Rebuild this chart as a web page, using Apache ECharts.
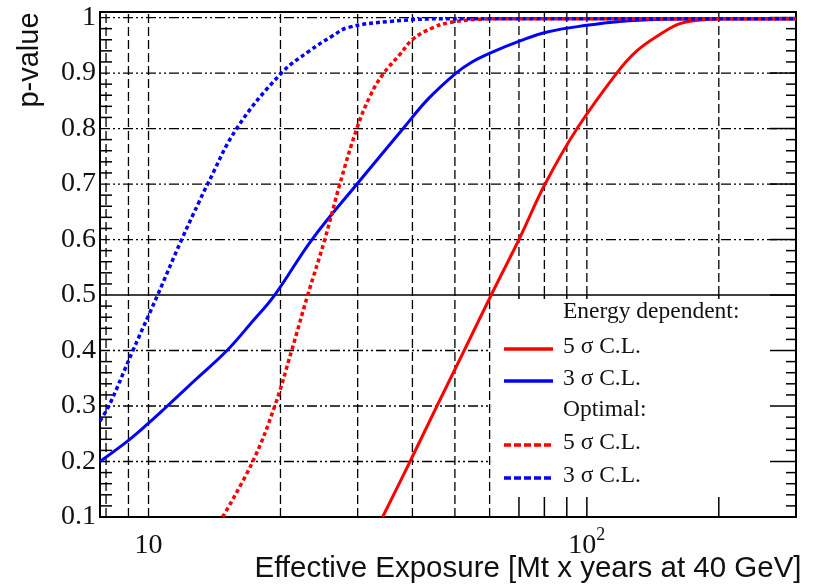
<!DOCTYPE html>
<html><head><meta charset="utf-8">
<script src="https://cdn.jsdelivr.net/npm/echarts@6/dist/echarts.min.js"></script>
<style>html,body{margin:0;padding:0;background:#fff}#c{width:817px;height:584px}</style>
</head><body><div id="c"></div>
<script>
// ---- data ----
const red5Energy = [[34.2,0.1],[39.5,0.2],[45.5,0.3],[52.5,0.4],[60.5,0.5],[70.0,0.6],[80.3,0.7],[95.0,0.8],[117,0.9],[130,0.94],[147,0.97],[163,0.989],[179,0.995],[202,0.998],[300,0.998]];
const blue3Energy = [[7.75,0.2],[9.0,0.238],[10,0.269],[10.9,0.296],[12.74,0.346],[15.1,0.4],[17.2,0.451],[19.4,0.5],[23.6,0.6],[29.9,0.7],[38.1,0.8],[43.4,0.853],[50.3,0.9],[54.7,0.92],[60.1,0.936],[70.4,0.958],[81.2,0.974],[100,0.986],[119,0.993],[147,0.997],[181,0.998],[300,0.998]];
const red5Optimal = [[14.76,0.1],[17.29,0.2],[19.41,0.3],[21.21,0.4],[23.08,0.5],[25.24,0.6],[27.32,0.7],[29.87,0.8],[32.0,0.858],[34.2,0.897],[37.5,0.934],[40.1,0.961],[44.6,0.982],[48.7,0.991],[57.0,0.997],[66,0.998],[300,0.998]];
const blue3Optimal = [[7.75,0.273],[8.14,0.302],[9.19,0.398],[10.05,0.467],[10.49,0.5],[11.9,0.6],[13.08,0.67],[13.64,0.7],[15.89,0.8],[20.1,0.9],[23.3,0.94],[26.3,0.967],[28.5,0.982],[35.5,0.993],[48.7,0.998],[300,0.998]];

// ---- axes / ticks ----
const xMin = 7.75, xMax = 300;
const yMin = 0.1, yMax = 1.01;
const xTickLabels = {10: '{n|10}', 100: '{n|10}{s|2}'};
const yTickLabels = ['0.1','0.2','0.3','0.4','0.5','0.6','0.7','0.8','0.9','1'];
const xGridFull = [8, 9, 10, 20, 30, 40, 50, 60];
const xGridUpper = [70, 80, 90, 100, 200];
const yGridFull = [0.6, 0.7, 0.8, 0.9, 1.0];
const yGridLeft = [0.2, 0.3, 0.4];
const ySolid = 0.5;
const boxLeftX = 60.5;
const yMinor = [];
for (let i = 0; i <= 45; i++) { const v = +(0.1 + i * 0.02).toFixed(2); if (Math.round(v * 100) % 10 !== 0) yMinor.push(v); }
const yMajor = [0.1,0.2,0.3,0.4,0.5,0.6,0.7,0.8,0.9,1.0];

const serif = '"Liberation Serif", "DejaVu Serif", serif';
const sans = '"Liberation Sans", Arial, sans-serif';

function lineRender(style) {
  return function (params, api) {
    const a = api.coord([api.value(0), api.value(1)]);
    const b = api.coord([api.value(2), api.value(3)]);
    return {type: 'line', shape: {x1: a[0], y1: a[1], x2: b[0], y2: b[1]}, style: style};
  };
}
function tickRender(dx, dy, style) {
  return function (params, api) {
    const a = api.coord([api.value(0), api.value(1)]);
    return {type: 'line', shape: {x1: a[0], y1: a[1], x2: a[0] + dx, y2: a[1] + dy}, style: style};
  };
}
const gridV = {stroke: '#000', lineWidth: 1.3, lineDash: [9, 4]};
const gridH = {stroke: '#000', lineWidth: 1.3, lineDash: [10, 3, 2, 3, 2, 3]};
const tickStyle = {stroke: '#000', lineWidth: 1.5};

function customLines(data, style) {
  return {type: 'custom', silent: true, z: 1, renderItem: lineRender(style),
    encode: {x: [0, 2], y: [1, 3]}, data: data};
}
function customTicks(data, dx, dy) {
  return {type: 'custom', silent: true, z: 1, renderItem: tickRender(dx, dy, tickStyle),
    encode: {x: 0, y: 1}, data: data};
}
function curve(name, data, color, dashed) {
  return {name: name, type: 'line', data: data, showSymbol: false, smooth: 0.4, z: 3,
    lineStyle: dashed ? {color: color, width: 3.5, type: [4, 3]} : {color: color, width: 3}};
}

const series = [
  customLines(xGridFull.map(x => [x, yMin, x, yMax]), gridV),
  customLines(xGridUpper.map(x => [x, ySolid, x, yMax]), gridV),
  customLines(yGridFull.map(y => [xMin, y, xMax, y]), gridH),
  customLines(yGridLeft.map(y => [xMin, y, boxLeftX, y]), gridH),
  customLines([[xMin, ySolid, xMax, ySolid]], {stroke: '#000', lineWidth: 1.6}),
  customTicks(xGridUpper.map(x => [x, yMin]), 0, -20),
  customTicks(xGridUpper.map(x => [x, ySolid]), 0, 4),
  customTicks(yMinor.map(y => [xMin, y]), 12, 0),
  customTicks(yMinor.map(y => [xMax, y]), -10, 0),
  customTicks(yMajor.map(y => [xMax, y]), -26, 0),
  curve('5σ energy', red5Energy, '#ff0000', false),
  curve('3σ energy', blue3Energy, '#0000ff', false),
  curve('5σ optimal', red5Optimal, '#ff0000', true),
  curve('3σ optimal', blue3Optimal, '#0000ff', true)
];

// legend
const legendRows = [
  {text: 'Energy dependent:'},
  {text: '5 σ C.L.', color: '#ff0000', dash: false},
  {text: '3 σ C.L.', color: '#0000ff', dash: false},
  {text: 'Optimal:'},
  {text: '5 σ C.L.', color: '#ff0000', dash: true},
  {text: '3 σ C.L.', color: '#0000ff', dash: true}
];
const legendY = [313, 348, 380, 411, 444, 477];
const graphic = [];
legendRows.forEach((r, i) => {
  graphic.push({type: 'text', left: 563, top: legendY[i] - 13, z: 10,
    style: {text: r.text, font: '23.5px ' + serif, fill: '#111'}});
  if (r.color) {
    graphic.push({type: 'line', z: 10, shape: {x1: 504, y1: legendY[i] + 1, x2: 553, y2: legendY[i] + 1},
      style: {stroke: r.color, lineWidth: 3.5, lineDash: r.dash ? [7, 3] : null}});
  }
});
graphic.push({type: 'text', x: 30, y: 60, rotation: Math.PI / 2, z: 10,
  style: {text: 'p-value', font: '29px ' + sans, fill: '#111', align: 'center', verticalAlign: 'middle'}});
graphic.push({type: 'text', x: 528, y: 569, z: 10,
  style: {text: 'Effective Exposure [Mt x years at 40 GeV]', font: '29.5px ' + sans, fill: '#111', align: 'center', verticalAlign: 'middle'}});

const chart = echarts.init(document.getElementById('c'));
chart.setOption({
  animation: false,
  backgroundColor: '#fff',
  grid: {left: 100, right: 21, top: 12, bottom: 67, show: true, borderColor: '#000', borderWidth: 2, backgroundColor: 'transparent'},
  xAxis: {type: 'log', logBase: 10, min: xMin, max: xMax,
    axisLine: {show: false}, axisTick: {show: false}, splitLine: {show: false}, minorTick: {show: false},
    axisLabel: {margin: 9, color: '#111', showMinLabel: false, showMaxLabel: false,
      formatter: function (v) { const k = Math.round(v); return (Math.abs(v - k) < 1e-6 * k && xTickLabels[k]) ? xTickLabels[k] : ''; },
      rich: {n: {fontFamily: serif, fontSize: 28, lineHeight: 40, color: '#111'},
             s: {fontFamily: serif, fontSize: 18, lineHeight: 18, verticalAlign: 'top', color: '#111'}}}},
  yAxis: {type: 'value', min: yMin, max: yMax, interval: 0.1,
    axisLine: {show: false}, axisTick: {show: false}, splitLine: {show: false},
    axisLabel: {margin: 4, color: '#111', fontFamily: serif, fontSize: 28, showMaxLabel: false,
      formatter: function (v) { const i = Math.round((v - 0.1) * 10); return (Math.abs(v - (0.1 + i * 0.1)) < 1e-6 && yTickLabels[i]) ? yTickLabels[i] : ''; }}},
  series: series,
  graphic: graphic
});
</script>
</body></html>
